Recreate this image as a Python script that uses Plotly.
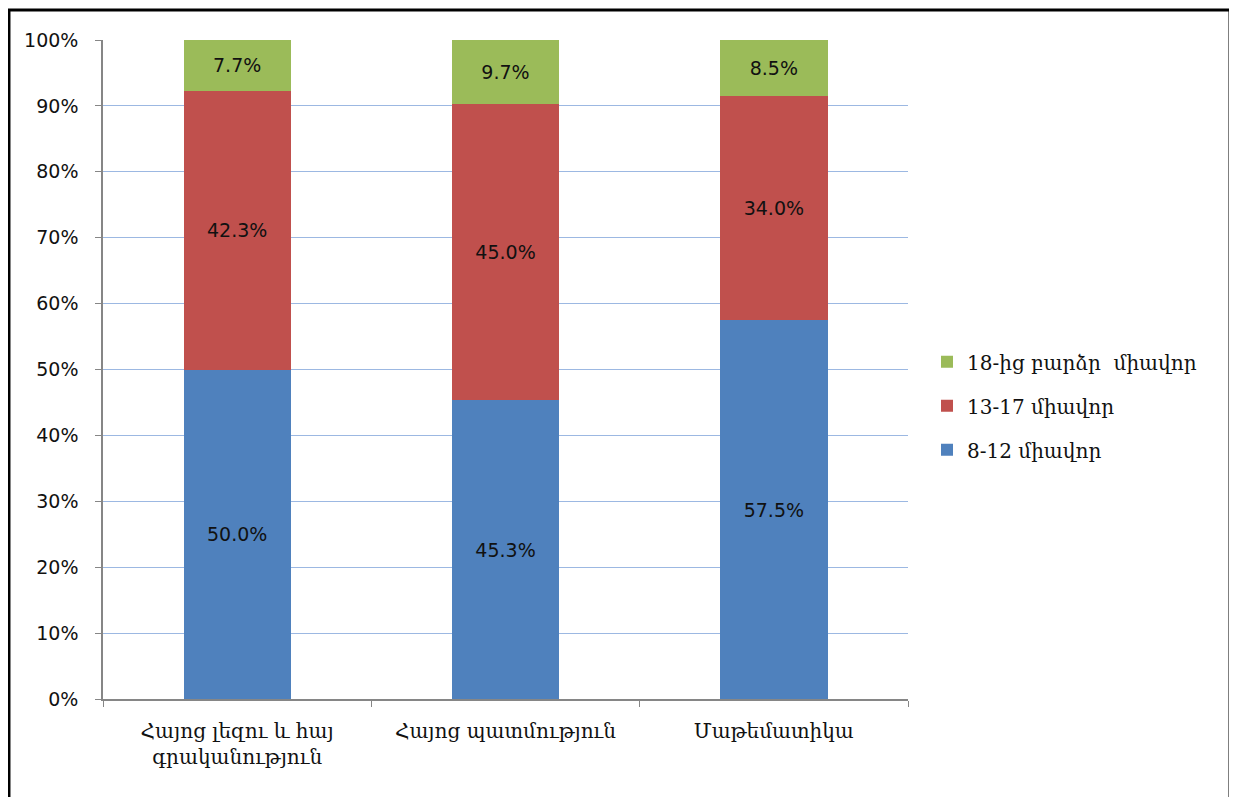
import plotly.graph_objects as go

subjects = ["Հայոց լեզու և հայ<br>գրականություն", "Հայոց պատմություն", "Մաթեմատիկա"]
low_scores = [50.0, 45.3, 57.5]      # 8-12 միավոր
mid_scores = [42.3, 45.0, 34.0]      # 13-17 միավոր
high_scores = [7.7, 9.7, 8.5]        # 18-ից բարձր միավոր
series_names = ["8-12 միավոր", "13-17 միավոր", "18-ից բարձր  միավոր"]
series_colors = ["#4F81BD", "#C0504D", "#9BBB59"]
y_ticks = [0, 10, 20, 30, 40, 50, 60, 70, 80, 90, 100]

ARM_FONT = "Sylfaen, 'DejaVu Serif', 'DejaVu Sans', serif"
NUM_FONT = "Verdana, 'DejaVu Sans', sans-serif"

figure = go.Figure()
series = [low_scores, mid_scores, high_scores]
for i, (name, vals, color) in enumerate(zip(series_names, series, series_colors)):
    figure.add_trace(
        go.Bar(
            x=subjects,
            y=vals,
            name=name,
            legendgroup=name,
            legendrank=3 - i,
            marker=dict(color=color, line=dict(width=0)),
            texttemplate="%{y:.1f}%",
            textposition="inside",
            insidetextanchor="middle",
            textangle=0,
            textfont=dict(family=NUM_FONT, size=19, color="#111111"),
        )
    )

# page body adds 8px offset, so the figure is a bit smaller than the window
figure.update_layout(
    width=1229,
    height=789,
    barmode="stack",
    bargap=0.6,
    plot_bgcolor="white",
    paper_bgcolor="white",
    margin=dict(l=95, r=329, t=32, b=98),
    showlegend=True,
    legend=dict(
        x=1.0236,
        y=0.445,
        xanchor="left",
        yanchor="middle",
        traceorder="grouped",
        tracegroupgap=15,
        font=dict(family=ARM_FONT, size=20, color="#111111"),
        itemwidth=30,
    ),
    shapes=[
        dict(
            type="rect",
            xref="paper",
            yref="paper",
            x0=-0.1168,
            x1=1.4,
            y0=-0.2,
            y1=1.0455,
            line=dict(color="black", width=3),
            fillcolor="rgba(0,0,0,0)",
            layer="below",
        )
    ],
)

figure.update_yaxes(
    range=[0, 100],
    tickvals=y_ticks,
    ticktext=[f"{v}%" for v in y_ticks],
    showgrid=True,
    gridcolor="#9CB8E2",
    gridwidth=1,
    showline=True,
    linecolor="#868686",
    linewidth=1.5,
    ticks="outside",
    ticklen=6,
    tickcolor="#868686",
    ticklabelstandoff=13,
    zeroline=False,
    tickfont=dict(family=NUM_FONT, size=19, color="#111111"),
)
figure.update_xaxes(
    showline=True,
    linecolor="#868686",
    linewidth=1.5,
    ticks="outside",
    tickson="boundaries",
    ticklen=6,
    tickcolor="#868686",
    ticklabelstandoff=13,
    showgrid=False,
    tickfont=dict(family=ARM_FONT, size=20, color="#111111"),
)

figure.write_html("out.html")
